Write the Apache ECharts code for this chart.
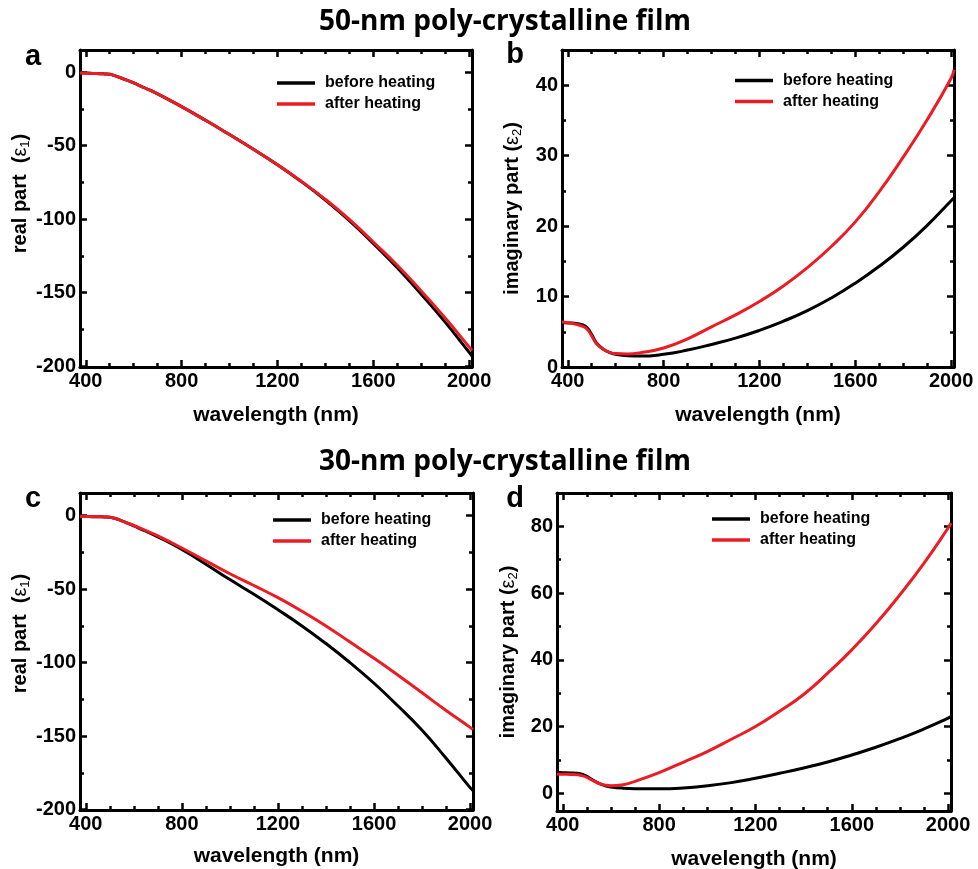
<!DOCTYPE html>
<html>
<head>
<meta charset="utf-8">
<script src="https://cdn.jsdelivr.net/npm/echarts@6/dist/echarts.min.js"></script>
<style>html,body{margin:0;padding:0;background:#fff}#c{width:978px;height:869px}</style>
</head>
<body>
<div id="c"></div>
<script>
// ---------- data ----------
const wavelength = [376, 400, 430, 460, 480, 500, 520, 550, 580, 600, 650, 700, 800, 900, 1000, 1100, 1200, 1300, 1400, 1500, 1600, 1700, 1800, 1900, 2000, 2012];

// 50-nm film
const a_before = [-0.6, -0.7, -0.9, -1.1, -1.3, -1.5, -2.4, -4.2, -6.0, -7.4, -11.0, -14.8, -23.5, -32.8, -42.5, -52.5, -63, -74.5, -87, -101, -116.5, -133, -151, -170, -190.5, -193];
const a_after  = [-0.6, -0.7, -0.9, -1.1, -1.3, -1.5, -2.4, -4.2, -6.0, -7.4, -11.0, -14.8, -23.5, -32.8, -42.5, -52.5, -63, -74.3, -86.5, -100.2, -115.5, -131.3, -148.8, -167.2, -186.8, -189.2];
const b_before = [6.3, 6.25, 6.2, 6.0, 5.6, 4.6, 3.4, 2.5, 2.0, 1.8, 1.6, 1.55, 1.8, 2.4, 3.2, 4.1, 5.2, 6.5, 8.0, 9.8, 11.9, 14.3, 17.0, 20.1, 23.6, 24.0];
const b_after  = [6.4, 6.3, 6.1, 5.8, 5.4, 4.4, 3.3, 2.5, 2.0, 1.9, 1.85, 2.0, 2.7, 4.0, 5.7, 7.4, 9.3, 11.5, 14.1, 17.1, 20.6, 24.9, 29.8, 35.1, 41.0, 42.2];

// 30-nm film
const c_before = [-0.5, -0.6, -0.7, -0.8, -0.9, -1.1, -1.8, -3.6, -5.6, -7.0, -10.6, -14.4, -23, -33, -43.5, -53.5, -64, -75, -87, -100, -114, -129.5, -146, -165, -185, -187];
const c_after  = [-0.5, -0.6, -0.7, -0.8, -0.9, -1.1, -1.8, -3.5, -5.4, -6.7, -10.2, -13.8, -22, -30.8, -39.5, -47.5, -55.8, -65, -75, -86, -97, -108.5, -120.5, -132.5, -144, -145.5];
const d_before = [6.3, 6.2, 6.1, 6.0, 5.7, 5.1, 4.2, 3.0, 2.2, 1.9, 1.55, 1.4, 1.35, 1.6, 2.25, 3.2, 4.5, 6.0, 7.6, 9.4, 11.5, 13.8, 16.4, 19.3, 22.5, 23.0];
const d_after  = [5.7, 5.7, 5.65, 5.6, 5.3, 4.8, 4.0, 3.0, 2.4, 2.25, 2.55, 3.6, 6.2, 9.3, 12.5, 16.2, 20.0, 24.6, 29.6, 36, 43, 50.8, 59.5, 69, 79.5, 81];

const seriesNames = ['before heating', 'after heating'];
const titles = ['50-nm poly-crystalline film', '30-nm poly-crystalline film'];
const panelLetters = ['a', 'b', 'c', 'd'];

const xMajorTicks = [400, 800, 1200, 1600, 2000];
const xMinorTicks = [500, 600, 700, 900, 1000, 1100, 1300, 1400, 1500, 1700, 1800, 1900];
const realMajorTicks = [-200, -150, -100, -50, 0];
const realMinorTicks = [-175, -125, -75, -25];
const imagBMajorTicks = [0, 10, 20, 30, 40];
const imagBMinorTicks = [5, 15, 25, 35];
const imagDMajorTicks = [0, 20, 40, 60, 80];
const imagDMinorTicks = [10, 30, 50, 70];

const xName = 'wavelength (nm)';
const realName = 'real part  ({e|ε}{s|1})';
const imagName = 'imaginary part ({e|ε}{s|2})';

// ---------- layout ----------
const FONT = '"Liberation Sans", Arial, sans-serif';
const panels = [
  {grid: {left: 80,  top: 50,  width: 392, height: 317}, x: [376, 2012], y: [-200.5, 15], yMaj: realMajorTicks, yMin: realMinorTicks, yName: realName, yGap: 42, yPad: 30, xGap: 36, before: a_before, after: a_after, legend: [277, 73], letter: [33, 57]},
  {grid: {left: 562, top: 50,  width: 392, height: 317}, x: [376, 2012], y: [0, 45], yMaj: imagBMajorTicks, yMin: imagBMinorTicks, yName: imagName, yGap: 38, yPad: 0, xGap: 36, before: b_before, after: b_after, legend: [735, 70.5], letter: [515, 55]},
  {grid: {left: 80,  top: 493, width: 393, height: 317}, x: [376, 2012], y: [-200.2, 15.4], yMaj: realMajorTicks, yMin: realMinorTicks, yName: realName, yGap: 43, yPad: 36, xGap: 34, before: c_before, after: c_after, legend: [273, 510], letter: [33, 499]},
  {grid: {left: 557, top: 493, width: 394, height: 318}, x: [376, 2012], y: [-5.3, 90], yMaj: imagDMajorTicks, yMin: imagDMinorTicks, yName: imagName, yGap: 37, yPad: 0, xGap: 36, before: d_before, after: d_after, legend: [712, 509], letter: [515, 499]}
];

function mkAxes(gi, range, major, minor, isX, nameText, nameGap, namePad) {
  const posA = isX ? 'bottom' : 'left', posB = isX ? 'top' : 'right';
  const base = {type: 'value', gridIndex: gi, min: range[0], max: range[1], splitLine: {show: false}, silent: true};
  const line = {show: true, onZero: false, lineStyle: {color: '#000', width: 3}};
  const noLine = {show: false, onZero: false};
  const majT = {show: true, inside: true, length: 7, customValues: major, lineStyle: {color: '#000', width: 2.5}};
  const minT = {show: true, inside: true, length: 4, customValues: minor, lineStyle: {color: '#000', width: 2.5}};
  const nameStyle = {
    fontSize: isX ? 21 : 20, fontWeight: 'bold', fontFamily: FONT, color: '#000', lineHeight: 24,
    padding: isX ? 0 : [0, 0, 0, namePad],
    rich: {
      e: {fontSize: 20, fontWeight: 'normal', fontFamily: FONT, color: '#000', lineHeight: 24},
      s: {fontSize: 13, fontWeight: 'normal', fontFamily: FONT, color: '#000', lineHeight: 13, verticalAlign: 'bottom'}
    }
  };
  return [
    Object.assign({}, base, {position: posA, axisLine: line, axisTick: majT,
      axisLabel: {show: true, customValues: major, formatter: v => String(v), fontSize: 20, fontWeight: 'bold', fontFamily: FONT, color: '#000', margin: 4},
      name: nameText, nameLocation: 'middle', nameGap: nameGap, nameTextStyle: nameStyle}),
    Object.assign({}, base, {position: posA, axisLine: noLine, axisTick: minT, axisLabel: {show: false}}),
    Object.assign({}, base, {position: posB, axisLine: line, axisTick: majT, axisLabel: {show: false}}),
    Object.assign({}, base, {position: posB, axisLine: noLine, axisTick: minT, axisLabel: {show: false}})
  ];
}

const grids = [], xAxes = [], yAxes = [], series = [], legends = [], graphics = [];
panels.forEach((p, i) => {
  grids.push(Object.assign({containLabel: false, outerBoundsMode: 'none'}, p.grid));
  xAxes.push(...mkAxes(i, p.x, xMajorTicks, xMinorTicks, true, xName, p.xGap, 0));
  yAxes.push(...mkAxes(i, p.y, p.yMaj, p.yMin, false, p.yName, p.yGap, p.yPad));
  [[p.before, '#000000'], [p.after, '#ec1c24']].forEach(([vals, col], k) => {
    series.push({
      name: seriesNames[k], type: 'line', xAxisIndex: 4 * i, yAxisIndex: 4 * i,
      data: wavelength.map((w, j) => [w, vals[j]]),
      showSymbol: false, symbol: 'none', smooth: 0.5,
      lineStyle: {color: col, width: 3}, itemStyle: {color: col}, z: 3 + k, silent: true
    });
  });
  legends.push({
    orient: 'vertical', left: p.legend[0], top: p.legend[1], padding: 0, itemGap: 1,
    itemWidth: 38, itemHeight: 3.5, icon: 'rect', selectedMode: false, data: seriesNames,
    textStyle: {fontSize: 16, fontWeight: 'bold', fontFamily: FONT, color: '#000', lineHeight: 20, padding: [0, 0, 0, 5]}
  });
  graphics.push({type: 'text', x: p.letter[0], y: p.letter[1], silent: true,
    style: {text: panelLetters[i], font: 'bold 29px "Liberation Sans", Arial, sans-serif', fill: '#000', align: 'center', verticalAlign: 'middle'}});
});
graphics.push({type: 'text', x: 505, y: 22, silent: true,
  style: {text: titles[0], font: 'bold 28px "Open Sans", sans-serif', fill: '#000', align: 'center', verticalAlign: 'middle'}});
graphics.push({type: 'text', x: 505, y: 462, silent: true,
  style: {text: titles[1], font: 'bold 28px "Open Sans", sans-serif', fill: '#000', align: 'center', verticalAlign: 'middle'}});

const chart = echarts.init(document.getElementById('c'), null, {renderer: 'canvas'});
chart.setOption({
  animation: false,
  backgroundColor: '#fff',
  grid: grids, xAxis: xAxes, yAxis: yAxes, series: series, legend: legends, graphic: graphics
});
</script>
</body>
</html>
